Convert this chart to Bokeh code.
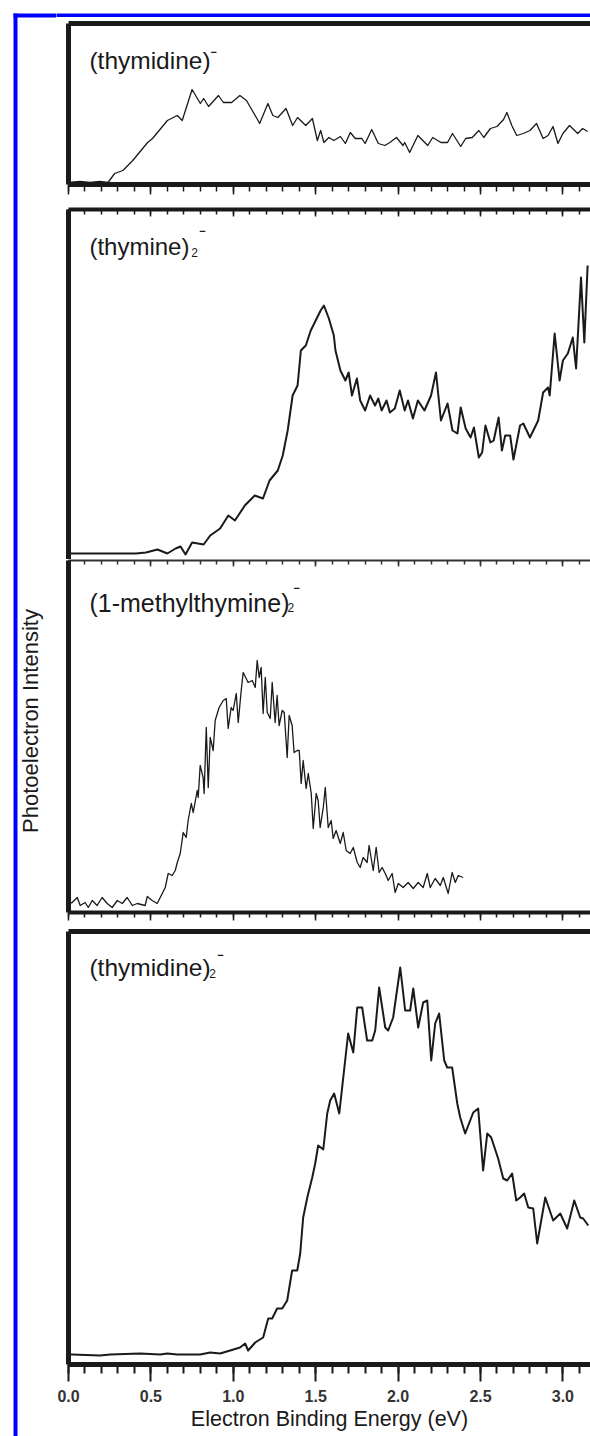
import math
from bokeh.plotting import figure
from bokeh.models import (Range1d, LinearAxis, SingleIntervalTicker, FixedTicker,
                          Label, CustomJSTickFormatter, PrintfTickFormatter)
from bokeh.layouts import row, column
from bokeh.embed import file_html
from bokeh.resources import INLINE

# ---------------- data ----------------
# energies in eV, intensities in arbitrary units
e1 = [0.00, 0.07, 0.13, 0.19, 0.24, 0.28, 0.33, 0.39, 0.48, 0.51,
      0.60, 0.66, 0.69, 0.75, 0.80, 0.82, 0.85, 0.91, 0.94, 0.99,
      1.04, 1.08, 1.15, 1.16, 1.21, 1.24, 1.27, 1.32, 1.36, 1.39,
      1.44, 1.48, 1.51, 1.53, 1.55, 1.58, 1.61, 1.65, 1.68, 1.71,
      1.74, 1.78, 1.80, 1.84, 1.88, 1.92, 1.95, 1.99, 2.03, 2.04,
      2.07, 2.12, 2.18, 2.21, 2.26, 2.30, 2.33, 2.38, 2.41, 2.45,
      2.49, 2.52, 2.56, 2.60, 2.64, 2.66, 2.69, 2.72, 2.76, 2.80,
      2.84, 2.88, 2.91, 2.94, 2.97, 3.00, 3.04, 3.09, 3.12, 3.15]
i1 = [1, 2, 1, 2, 1, 10, 13, 23, 41, 45,
      63, 68, 63, 94, 80, 85, 77, 88, 81, 81,
      88, 83, 63, 60, 80, 68, 66, 75, 58, 66,
      58, 65, 43, 53, 41, 46, 43, 47, 40, 51,
      45, 45, 40, 54, 40, 38, 41, 46, 38, 41,
      31, 48, 38, 46, 41, 41, 50, 37, 45, 46,
      53, 46, 55, 57, 64, 71, 58, 48, 50, 53,
      60, 45, 48, 57, 40, 50, 58, 50, 55, 52]

e2 = [0.00, 0.41, 0.47, 0.54, 0.60, 0.65, 0.68, 0.71, 0.75, 0.82,
      0.86, 0.92, 0.97, 1.01, 1.07, 1.13, 1.18, 1.22, 1.27, 1.30,
      1.33, 1.36, 1.39, 1.41, 1.44, 1.47, 1.50, 1.53, 1.55, 1.58,
      1.61, 1.62, 1.65, 1.68, 1.70, 1.72, 1.75, 1.77, 1.80, 1.83,
      1.86, 1.88, 1.90, 1.93, 1.95, 1.98, 2.01, 2.04, 2.06, 2.09,
      2.12, 2.16, 2.20, 2.23, 2.26, 2.30, 2.33, 2.36, 2.38, 2.41,
      2.44, 2.46, 2.49, 2.51, 2.53, 2.56, 2.58, 2.61, 2.63, 2.65,
      2.68, 2.70, 2.74, 2.76, 2.80, 2.85, 2.88, 2.91, 2.92, 2.95,
      2.98, 3.00, 3.03, 3.06, 3.08, 3.11, 3.13, 3.15]
i2 = [0, 0, 1, 4, 0, 5, 7, -1, 11, 9,
      18, 25, 38, 33, 48, 58, 55, 73, 83, 98,
      123, 158, 168, 203, 208, 223, 233, 243, 248, 235,
      218, 203, 183, 173, 181, 158, 175, 153, 143, 158,
      148, 155, 143, 153, 141, 145, 163, 143, 153, 135,
      153, 143, 158, 181, 133, 150, 123, 120, 146, 125,
      116, 126, 96, 101, 128, 111, 113, 136, 103, 118,
      118, 94, 128, 130, 116, 133, 161, 166, 158, 220,
      173, 193, 200, 216, 185, 276, 211, 288]

e3 = [0.000, 0.022, 0.053, 0.071, 0.101, 0.120, 0.144, 0.174, 0.204, 0.235,
      0.265, 0.296, 0.326, 0.356, 0.387, 0.417, 0.465, 0.478, 0.508, 0.538,
      0.569, 0.587, 0.605, 0.629, 0.648, 0.660, 0.678, 0.696, 0.714, 0.726,
      0.745, 0.757, 0.781, 0.787, 0.799, 0.817, 0.823, 0.836, 0.848, 0.860,
      0.878, 0.890, 0.914, 0.939, 0.957, 0.969, 0.987, 0.999, 1.018, 1.030,
      1.048, 1.060, 1.078, 1.090, 1.115, 1.133, 1.145, 1.157, 1.169, 1.181,
      1.194, 1.206, 1.224, 1.236, 1.254, 1.266, 1.278, 1.297, 1.309, 1.327,
      1.339, 1.357, 1.369, 1.388, 1.400, 1.412, 1.424, 1.442, 1.455, 1.473,
      1.485, 1.503, 1.515, 1.527, 1.546, 1.558, 1.576, 1.594, 1.606, 1.624,
      1.649, 1.667, 1.685, 1.709, 1.728, 1.752, 1.770, 1.788, 1.812, 1.824,
      1.849, 1.867, 1.885, 1.903, 1.922, 1.940, 1.964, 1.982, 2.001, 2.031,
      2.061, 2.092, 2.122, 2.152, 2.177, 2.195, 2.225, 2.256, 2.274, 2.304,
      2.328, 2.347, 2.365, 2.395]
i3 = [2, 3, 8, 0, 3, -2, 5, 0, 8, 2,
      -2, 5, 2, 8, 0, 2, 0, 9, 5, 2,
      12, 18, 32, 30, 35, 43, 52, 73, 68, 85,
      102, 93, 115, 108, 140, 128, 112, 178, 118, 168,
      155, 185, 198, 205, 207, 177, 198, 195, 212, 183,
      215, 233, 227, 223, 225, 218, 245, 228, 238, 192,
      228, 193, 187, 223, 183, 210, 180, 195, 193, 148,
      190, 180, 153, 155, 155, 122, 145, 117, 132, 112,
      77, 112, 105, 78, 98, 118, 78, 85, 67, 75,
      62, 73, 55, 52, 58, 43, 38, 48, 43, 60,
      35, 58, 33, 38, 32, 25, 32, 13, 22, 18,
      23, 17, 23, 18, 32, 18, 27, 20, 28, 12,
      33, 23, 30, 28]

e4 = [0.000, 0.022, 0.192, 0.253, 0.435, 0.556, 0.599, 0.660, 0.799, 0.860,
      0.920, 0.981, 1.041, 1.072, 1.090, 1.133, 1.181, 1.212, 1.236, 1.266,
      1.297, 1.327, 1.357, 1.388, 1.406, 1.424, 1.449, 1.479, 1.497, 1.515,
      1.546, 1.570, 1.588, 1.612, 1.643, 1.697, 1.728, 1.752, 1.782, 1.812,
      1.843, 1.861, 1.885, 1.922, 1.940, 1.970, 2.013, 2.043, 2.073, 2.092,
      2.122, 2.152, 2.177, 2.201, 2.225, 2.249, 2.280, 2.298, 2.328, 2.359,
      2.377, 2.407, 2.456, 2.486, 2.516, 2.541, 2.565, 2.607, 2.638, 2.662,
      2.692, 2.717, 2.741, 2.765, 2.790, 2.820, 2.844, 2.893, 2.941, 2.984,
      3.026, 3.069, 3.105, 3.123, 3.154]
i4 = [2, 2, 1, 2, 3, 2, 3, 2, 2, 4,
      3, 6, 9, 13, 6, 14, 19, 38, 38, 48,
      48, 56, 86, 86, 103, 139, 159, 179, 193, 211,
      207, 243, 256, 263, 243, 323, 304, 349, 349, 316,
      316, 326, 369, 329, 326, 339, 389, 346, 346, 368,
      329, 354, 356, 296, 333, 343, 296, 289, 289, 253,
      239, 223, 244, 248, 186, 223, 219, 198, 178, 176,
      183, 156, 159, 163, 149, 148, 113, 159, 136, 143,
      128, 156, 139, 138, 131]

x_title = "Electron Binding Energy (eV)"
y_title = "Photoelectron Intensity"

# ---------------- styling helpers ----------------
FONT = "Liberation Sans"
INK = "#1a1a1a"
BLUE = "#0000ff"
X_END = 3.1675
PW = 534  # width of the panel figures


def panel(height, yr, mbt, mbb):
    p = figure(width=PW, height=height, x_range=Range1d(0, X_END),
               y_range=Range1d(*yr), x_axis_type=None, y_axis_type=None,
               toolbar_location=None, output_backend="svg", title=None,
               min_border_left=12, min_border_right=0,
               min_border_top=mbt, min_border_bottom=mbb)
    p.outline_line_color = None
    p.background_fill_color = "white"
    p.border_fill_color = "white"
    return p


def add_axis(p, side, lw, t_in=0, t_out=0, m_in=0, m_out=0, tw=1.5,
             color=INK, labels=False):
    if t_in or t_out:
        ticker = SingleIntervalTicker(interval=0.5, num_minor_ticks=5)
    else:
        ticker = FixedTicker(ticks=[])
    ax = LinearAxis(ticker=ticker)
    ax.axis_line_width = lw
    ax.axis_line_color = color
    ax.major_tick_in = t_in
    ax.major_tick_out = t_out
    ax.minor_tick_in = m_in
    ax.minor_tick_out = m_out
    ax.major_tick_line_width = tw
    ax.minor_tick_line_width = tw
    ax.major_tick_line_color = color
    ax.minor_tick_line_color = color
    if not labels:
        ax.formatter = CustomJSTickFormatter(code="return ''")
        ax.major_label_text_font_size = "0px"
        ax.major_label_standoff = 0
    p.add_layout(ax, side)
    return ax


def name_label(p, x, y, main, sub, sx, sy, mx, my, size="24.5px"):
    p.add_layout(Label(x=x, y=y, text=main, text_font=FONT,
                       text_font_size=size, text_color=INK,
                       text_baseline="alphabetic"))
    if sub:
        p.add_layout(Label(x=sx, y=sy, text=sub, text_font=FONT,
                           text_font_size="12px", text_color=INK,
                           text_baseline="alphabetic"))
    p.add_layout(Label(x=mx, y=my, text="\u2212", text_font=FONT,
                       text_font_size="11px", text_font_style="bold",
                       text_color=INK, text_baseline="middle"))


# ---------------- left strip: blue frame + y title ----------------
L = figure(width=56, height=1436, x_range=Range1d(0, 56),
           y_range=Range1d(1436, 0), x_axis_type=None, y_axis_type=None,
           toolbar_location=None, output_backend="svg", title=None,
           min_border=0)
L.frame_align = False
L.outline_line_color = None
L.grid.visible = False
L.segment(x0=[15, 13], y0=[13, 15], x1=[15, 56], y1=[1436, 15],
          line_color=BLUE, line_width=4)
L.add_layout(Label(x=30, y=720.5, text=y_title, angle=math.pi / 2,
                   angle_units="rad", text_align="center",
                   text_baseline="alphabetic", text_font=FONT,
                   text_font_size="22px", text_color=INK))

# ---------------- top strip: blue frame line ----------------
T = figure(width=PW, height=17, x_range=Range1d(0, 1), y_range=Range1d(0, 1),
           x_axis_type=None, y_axis_type=None, toolbar_location=None,
           output_backend="svg", title=None, min_border_top=13,
           min_border_bottom=0, min_border_left=0, min_border_right=0)
T.frame_align = False
T.outline_line_color = None
T.background_fill_color = BLUE
T.border_fill_color = "white"

# ---------------- panel 1: (thymidine)- ----------------
f1 = panel(183, (-1, 160), 6, 16)
f1.line(e1, i1, line_color=INK, line_width=1.3, line_join="round")
add_axis(f1, "left", 5)
add_axis(f1, "above", 5)
add_axis(f1, "below", 5, t_out=10, m_out=7, tw=1.5)
name_label(f1, 0.127, 123, "(thymidine)", None, 0, 0, 0.861, 132)

# ---------------- panel 2: (thymine)2- ----------------
f2 = panel(359, (-6, 344), 9, 0)
f2.line(e2, i2, line_color=INK, line_width=2.0, line_join="round")
add_axis(f2, "left", 5)
add_axis(f2, "above", 4, t_in=7, m_in=5, tw=1.5)
name_label(f2, 0.127, 307.5, "(thymine)", "2", 0.745, 301, 0.793, 323,
           size="24px")

# ---------------- panel 3: (1-methylthymine)2- ----------------
f3 = panel(363, (-7, 345), 1, 10)
f3.line(e3, i3, line_color=INK, line_width=1.3, line_join="round")
add_axis(f3, "left", 5)
add_axis(f3, "above", 2, t_in=6, m_in=4, tw=1.5, color="#333333")
add_axis(f3, "below", 4, t_out=8, m_out=5, tw=1.5)
name_label(f3, 0.127, 302.5, "(1-methylthymine)", "2", 1.329, 298, 1.365, 318,
           size="25px")

# ---------------- panel 4: (thymidine)2- ----------------
f4 = panel(514, (-8, 425), 9, 72)
f4.line(e4, i4, line_color=INK, line_width=2.0, line_join="round")
add_axis(f4, "left", 5)
add_axis(f4, "above", 5)
bx = add_axis(f4, "below", 5, t_out=17, m_out=9, tw=2, labels=True)
bx.formatter = PrintfTickFormatter(format="%.1f")
bx.major_label_text_font = FONT
bx.major_label_text_font_size = "16px"
bx.major_label_text_font_style = "bold"
bx.major_label_text_color = "#333333"
bx.major_label_standoff = 8
bx.axis_label = x_title
bx.axis_label_text_font = FONT
bx.axis_label_text_font_size = "21.5px"
bx.axis_label_text_font_style = "normal"
bx.axis_label_text_color = INK
bx.axis_label_standoff = 2
name_label(f4, 0.127, 389, "(thymidine)", "2", 0.854, 383, 0.903, 402)

layout = row(L, column(T, f1, f2, f3, f4))
open("out.html", "w").write(file_html(layout, INLINE))
